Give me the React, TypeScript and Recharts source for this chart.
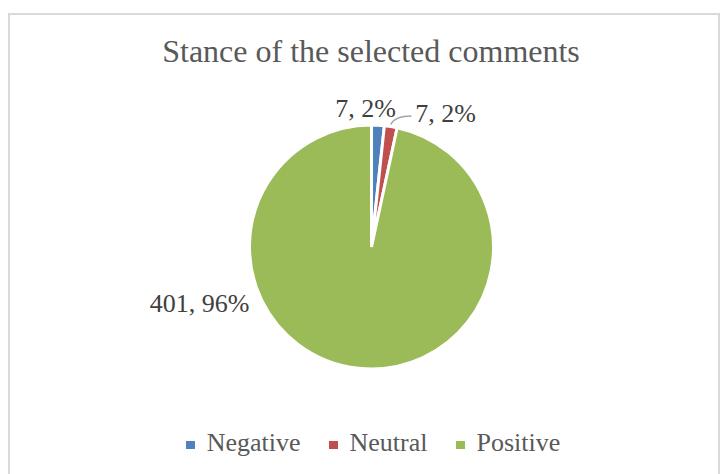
import { PieChart, Pie, Cell, Legend } from 'recharts'

const categories = ['Negative', 'Neutral', 'Positive']
const counts = [7, 7, 401]
const percents = [2, 2, 96]
const COLORS = ['#4f81bd', '#c0504d', '#9bbb59']

// where each data label sits, relative to the pie centre (x middle, y baseline)
const LABEL_OFFSETS = [[-6, -130], [74, -125], [-172, 65]]

const FONT = '"Liberation Serif", "Times New Roman", serif'
const W = 708
const H = 461

const data = categories.map((name, i) => ({ name, value: counts[i], pct: percents[i] }))

function renderLabel(props: any) {
  const { cx, cy, midAngle, outerRadius, index, value, payload } = props
  const [dx, dy] = LABEL_OFFSETS[index]
  const x = cx + dx
  const y = cy + dy
  const text = `${value}, ${payload.pct}%`
  let line = null
  if (index === 1) {
    const rad = (midAngle * Math.PI) / 180
    const sx = cx + outerRadius * Math.cos(rad)
    const sy = cy - outerRadius * Math.sin(rad) - 2
    const ex = x - 34
    const ey = y - 6
    line = <path d={`M${sx},${sy} Q${sx + 4},${ey} ${ex},${ey}`} stroke="#a6a6a6" strokeWidth={1.5} fill="none" />
  }
  return (
    <g key={`lbl-${index}`}>
      {line}
      <text x={x} y={y} textAnchor="middle" fill="#404040" fontSize={26} style={{ fontFamily: FONT }}>{text}</text>
    </g>
  )
}

function LegendContent(props: any) {
  const items = props.payload || []
  return (
    <div style={{ display: 'flex', justifyContent: 'center', paddingLeft: 18, fontFamily: FONT, fontSize: 26, lineHeight: '26px', color: '#595959' }}>
      {items.map((it: any, i: number) => (
        <div key={i} style={{ display: 'flex', alignItems: 'center', marginLeft: i ? 28 : 0 }}>
          <span style={{ width: 9, height: 8, background: it.color, display: 'inline-block', marginRight: 12, marginTop: 4 }} />
          <span>{it.value}</span>
        </div>
      ))}
    </div>
  )
}

export default function App() {
  return (
    <div style={{ position: 'absolute', left: 8, top: 13, width: 712, height: 480, boxSizing: 'border-box', border: '2px solid #d9d9d9', background: '#fff' }}>
      <div style={{ position: 'absolute', left: 7, top: 20, width: W, textAlign: 'center', fontFamily: FONT, fontSize: 32, lineHeight: '32px', color: '#595959' }}>
        Stance of the selected comments
      </div>
      <PieChart width={W} height={H} margin={{ top: 0, right: 0, bottom: 0, left: 0 }}>
        <Pie
          data={data}
          dataKey="value"
          nameKey="name"
          cx={361.5}
          cy={232}
          outerRadius={122}
          startAngle={90}
          endAngle={-270}
          stroke="#ffffff"
          strokeWidth={3}
          label={renderLabel}
          labelLine={false}
          isAnimationActive={false}
        >
          {data.map((_, i) => <Cell key={i} fill={COLORS[i]} />)}
        </Pie>
        <Legend content={LegendContent} wrapperStyle={{ top: 415, left: 0, width: W, bottom: 'auto' }} />
      </PieChart>
    </div>
  )
}
